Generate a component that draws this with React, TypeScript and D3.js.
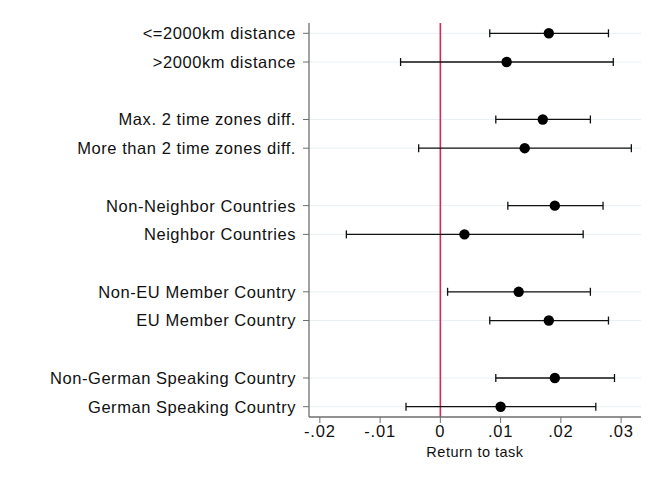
import React, { useEffect, useRef } from "react";
import * as d3 from "d3";

// Coefficient estimates with 95% confidence intervals, by subgroup
const labels = [
  "<=2000km distance",
  ">2000km distance",
  "Max. 2 time zones diff.",
  "More than 2 time zones diff.",
  "Non-Neighbor Countries",
  "Neighbor Countries",
  "Non-EU Member Country",
  "EU Member Country",
  "Non-German Speaking Country",
  "German Speaking Country",
];
// Row slot for each label (blank slots separate the pairs)
const slots = [0, 1, 3, 4, 6, 7, 9, 10, 12, 13];
const estimates = [0.018, 0.011, 0.017, 0.014, 0.019, 0.004, 0.013, 0.018, 0.019, 0.01];
const lower = [0.0082, -0.0066, 0.0092, -0.0036, 0.0112, -0.0156, 0.0012, 0.0082, 0.0092, -0.0057];
const upper = [0.0279, 0.0287, 0.0249, 0.0317, 0.027, 0.0237, 0.0249, 0.0279, 0.0289, 0.0258];
const xTicks = [-0.02, -0.01, 0, 0.01, 0.02, 0.03];
const xTickLabels = ["-.02", "-.01", "0", ".01", ".02", ".03"];
const xTitle = "Return to task";

const W = 654;
const H = 478;
const FONT = "'Liberation Sans', Arial, sans-serif";

export default function App() {
  const ref = useRef<SVGSVGElement>(null);

  useEffect(() => {
    const svg = d3.select(ref.current);
    svg.selectAll("*").remove();

    const left = 309, right = 641, top = 23, bottom = 417;
    const x = d3.scaleLinear().domain([-0.0218, 0.0333]).range([left, right]);
    const y = d3.scaleLinear().domain([0, 13]).range([33.3, 406.7]);

    svg.append("rect").attr("width", W).attr("height", H).attr("fill", "#fff");

    // horizontal grid lines at each row
    svg.append("g")
      .selectAll("line")
      .data(slots)
      .join("line")
      .attr("x1", left)
      .attr("x2", right)
      .attr("y1", (d) => y(d))
      .attr("y2", (d) => y(d))
      .attr("stroke", "#e8f0f3")
      .attr("stroke-width", 1);

    // reference line at zero
    svg.append("line")
      .attr("x1", x(0))
      .attr("x2", x(0))
      .attr("y1", top)
      .attr("y2", bottom)
      .attr("stroke", "#d42a55")
      .attr("stroke-width", 1.6);

    // confidence intervals
    const ci = svg.append("g").attr("stroke", "#111").attr("stroke-width", 1.3);
    labels.forEach((_, i) => {
      const yy = y(slots[i]);
      ci.append("line").attr("x1", x(lower[i])).attr("x2", x(upper[i])).attr("y1", yy).attr("y2", yy);
      [lower[i], upper[i]].forEach((v) => {
        ci.append("line").attr("x1", x(v)).attr("x2", x(v)).attr("y1", yy - 4).attr("y2", yy + 4);
      });
    });

    // point estimates
    svg.append("g")
      .selectAll("circle")
      .data(estimates)
      .join("circle")
      .attr("cx", (d) => x(d))
      .attr("cy", (_, i) => y(slots[i]))
      .attr("r", 5.2)
      .attr("fill", "#000");

    // left axis
    const axisColor = "#6e6e6e";
    svg.append("line")
      .attr("x1", left).attr("x2", left).attr("y1", top).attr("y2", bottom)
      .attr("stroke", axisColor).attr("stroke-width", 1.3);
    const ly = svg.append("g");
    labels.forEach((lab, i) => {
      const yy = y(slots[i]);
      ly.append("line").attr("x1", left - 6).attr("x2", left).attr("y1", yy).attr("y2", yy)
        .attr("stroke", axisColor).attr("stroke-width", 1);
      ly.append("text")
        .attr("x", left - 13)
        .attr("y", yy)
        .attr("dy", "0.36em")
        .attr("text-anchor", "end")
        .attr("font-family", FONT)
        .attr("font-size", 16.5)
        .attr("letter-spacing", 0.55)
        .attr("fill", "#111")
        .text(lab);
    });

    // bottom axis
    svg.append("line")
      .attr("x1", left).attr("x2", right).attr("y1", bottom).attr("y2", bottom)
      .attr("stroke", axisColor).attr("stroke-width", 1.3);
    const bx = svg.append("g");
    xTicks.forEach((t, i) => {
      bx.append("line").attr("x1", x(t)).attr("x2", x(t)).attr("y1", bottom).attr("y2", bottom + 6)
        .attr("stroke", axisColor).attr("stroke-width", 1);
      bx.append("text")
        .attr("x", x(t))
        .attr("y", 437)
        .attr("text-anchor", "middle")
        .attr("font-family", FONT)
        .attr("font-size", 16.5)
        .attr("letter-spacing", 0.8)
        .attr("fill", "#111")
        .text(xTickLabels[i]);
    });
    svg.append("text")
      .attr("x", (left + right) / 2)
      .attr("y", 457)
      .attr("text-anchor", "middle")
      .attr("font-family", FONT)
      .attr("font-size", 14.5)
      .attr("letter-spacing", 0.5)
      .attr("fill", "#111")
      .text(xTitle);
  }, []);

  return (
    <svg
      ref={ref}
      width={W}
      height={H}
      style={{ position: "absolute", left: 0, top: 0, display: "block" }}
    />
  );
}
